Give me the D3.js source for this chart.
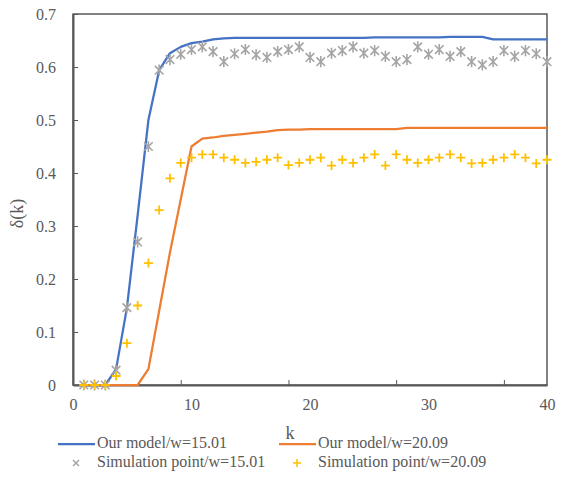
<!DOCTYPE html>
<html>
<head>
<meta charset="utf-8">
<script src="https://cdn.jsdelivr.net/npm/d3@7"></script>
<style>
  body { margin: 0; background: #fff; }
  svg text { font-family: "Liberation Serif", "DejaVu Serif", serif; fill: #595959; }
</style>
</head>
<body>
<div id="chart"></div>
<script>
// step index k for every series (1..44)
var steps = d3.range(1, 45);

// model curves
var modelW1501 = [0, 0, 0, 0.03, 0.145, 0.32, 0.5, 0.594, 0.626, 0.638, 0.645, 0.648, 0.652, 0.654,
  0.655, 0.655, 0.655, 0.655, 0.655, 0.655, 0.655, 0.655, 0.655, 0.655, 0.655, 0.655, 0.655,
  0.656, 0.656, 0.656, 0.656, 0.656, 0.656, 0.656, 0.657, 0.657, 0.657, 0.657,
  0.652, 0.652, 0.652, 0.652, 0.652, 0.652];
var modelW2009 = [0, 0, 0, 0, 0, 0, 0.03, 0.14, 0.25, 0.35, 0.45, 0.465, 0.467, 0.47, 0.472, 0.474,
  0.476, 0.478, 0.481, 0.482, 0.482, 0.483, 0.483, 0.483, 0.483, 0.483, 0.483, 0.483, 0.483, 0.483,
  0.485, 0.485, 0.485, 0.485, 0.485, 0.485, 0.485, 0.485, 0.485, 0.485, 0.485, 0.485, 0.485, 0.485];

// simulation points
var simW1501 = [0, 0, 0, 0.028, 0.146, 0.27, 0.45, 0.594, 0.614, 0.624, 0.633, 0.638, 0.629, 0.61,
  0.625, 0.633, 0.623, 0.618, 0.629, 0.633, 0.638, 0.618, 0.61, 0.626, 0.631, 0.638, 0.626, 0.631,
  0.62, 0.61, 0.614, 0.638, 0.624, 0.633, 0.62, 0.629, 0.61, 0.604, 0.61, 0.631, 0.62, 0.631, 0.625, 0.61];
var simW2009 = [0, 0, 0, 0.017, 0.079, 0.15, 0.23, 0.33, 0.39, 0.419, 0.429, 0.435, 0.435, 0.429,
  0.425, 0.419, 0.421, 0.425, 0.429, 0.415, 0.419, 0.425, 0.429, 0.414, 0.425, 0.419, 0.429, 0.435,
  0.414, 0.435, 0.425, 0.419, 0.425, 0.429, 0.435, 0.429, 0.418, 0.419, 0.425, 0.429, 0.435, 0.429, 0.418, 0.425];

// axis labels / ticks
var xLabels = [0, 10, 20, 30, 40];
var xTickMarks = [10, 20, 30, 40];
var yTicks = [0, 0.1, 0.2, 0.3, 0.4, 0.5, 0.6, 0.7];

var legendItems = [
  {name: "Our model/w=15.01", type: "line", color: "#4472C4"},
  {name: "Our model/w=20.09", type: "line", color: "#ED7D31"},
  {name: "Simulation point/w=15.01", type: "star", color: "#A5A5A5"},
  {name: "Simulation point/w=20.09", type: "plus", color: "#FFC000"}
];

var FONT = "'Liberation Serif', 'DejaVu Serif', serif";

var W = 561, H = 490;
var margin = {top: 14, right: 14, bottom: 105, left: 73};
var width = W - margin.left - margin.right,
    height = H - margin.top - margin.bottom;

var svg = d3.select("#chart").append("svg")
  .attr("width", W).attr("height", H)
  .append("g")
  .attr("transform", "translate(" + margin.left + "," + margin.top + ")");

// data scale and label scale (the labels in the original sit on a 0..40 spacing)
var x = d3.scaleLinear().domain([0, 44]).range([0, width]);
var xLab = d3.scaleLinear().domain([0, 40]).range([0, width]);
var y = d3.scaleLinear().domain([0, 0.7]).range([height, 0]);

// plot border
svg.append("rect")
  .attr("width", width).attr("height", height)
  .attr("fill", "none").attr("stroke", "#404040").attr("stroke-width", 1.3);

// y axis
var yAxis = svg.append("g")
  .call(d3.axisLeft(y).tickValues(yTicks).tickSizeInner(-5).tickSizeOuter(0)
    .tickPadding(17).tickFormat(function(d) { return d === 0 ? "0" : d3.format(".1f")(d); }));
yAxis.attr("font-family", FONT).attr("font-size", 16);
yAxis.selectAll("text").attr("fill", "#595959");
yAxis.select(".domain").attr("stroke", "#595959").attr("stroke-width", 2);
yAxis.selectAll(".tick line").attr("stroke", "#595959");

// x axis tick marks
var xAxis = svg.append("g")
  .attr("transform", "translate(0," + height + ")")
  .call(d3.axisBottom(x).tickValues(xTickMarks).tickSizeInner(-5).tickSizeOuter(0).tickFormat(""));
xAxis.select(".domain").attr("stroke", "#595959").attr("stroke-width", 2);
xAxis.selectAll(".tick line").attr("stroke", "#595959");

// x axis labels
var xAxisLab = svg.append("g")
  .attr("transform", "translate(0," + height + ")")
  .call(d3.axisBottom(xLab).tickValues(xLabels).tickSize(0).tickPadding(14));
xAxisLab.attr("font-family", FONT).attr("font-size", 16);
xAxisLab.select(".domain").remove();
xAxisLab.selectAll("text").attr("fill", "#595959");

// axis titles
svg.append("text")
  .attr("x", 217).attr("y", height + 54)
  .attr("text-anchor", "middle").style("font-size", "18px").text("k");

svg.append("text")
  .attr("transform", "translate(" + (-50) + "," + (height / 2 + 14) + ") rotate(-90)")
  .attr("text-anchor", "middle").style("font-size", "18px").text("δ(k)");

// model lines
var line = d3.line()
  .x(function(d) { return x(d[0]); })
  .y(function(d) { return y(d[1]); });

svg.append("path")
  .datum(d3.zip(steps, modelW1501))
  .attr("d", line).attr("fill", "none")
  .attr("stroke", "#4472C4").attr("stroke-width", 2.25).attr("stroke-linejoin", "round");

svg.append("path")
  .datum(d3.zip(steps, modelW2009))
  .attr("d", line).attr("fill", "none")
  .attr("stroke", "#ED7D31").attr("stroke-width", 2.25).attr("stroke-linejoin", "round");

// markers
function starPath(s) {
  return "M" + (-s) + "," + (-s) + "L" + s + "," + s +
    "M" + (-s) + "," + s + "L" + s + "," + (-s) +
    "M0," + (-s * 1.3) + "L0," + (s * 1.3);
}
function plusPath(s) {
  return "M" + (-s) + ",0L" + s + ",0M0," + (-s) + "L0," + s;
}

svg.append("g").selectAll("path")
  .data(d3.zip(steps, simW1501))
  .enter().append("path")
    .attr("transform", function(d) { return "translate(" + x(d[0]) + "," + y(d[1]) + ")"; })
    .attr("d", starPath(4.3))
    .attr("fill", "none").attr("stroke", "#A5A5A5").attr("stroke-width", 1.6);

svg.append("g").selectAll("path")
  .data(d3.zip(steps, simW2009))
  .enter().append("path")
    .attr("transform", function(d) { return "translate(" + x(d[0]) + "," + y(d[1]) + ")"; })
    .attr("d", plusPath(4.5))
    .attr("fill", "none").attr("stroke", "#FFC000").attr("stroke-width", 1.8);

// legend
var legendPos = [[-15, 430], [206, 430], [-15, 449], [206, 449]];
var legend = svg.append("g").selectAll("g")
  .data(legendItems)
  .enter().append("g")
    .attr("transform", function(d, i) { return "translate(" + legendPos[i][0] + "," + legendPos[i][1] + ")"; });

legend.each(function(d) {
  var g = d3.select(this);
  if (d.type === "line") {
    g.append("line").attr("x1", 0).attr("x2", 37).attr("y1", 0).attr("y2", 0)
      .attr("stroke", d.color).attr("stroke-width", 2.25);
  } else {
    g.append("path")
      .attr("transform", "translate(18,0)")
      .attr("d", d.type === "star" ? "M-3,-3L3,3M-3,3L3,-3" : plusPath(4))
      .attr("fill", "none").attr("stroke", d.color).attr("stroke-width", 1.5);
  }
  g.append("text").attr("x", 39).attr("y", 4).style("font-size", "16px").text(d.name);
});
</script>
</body>
</html>
